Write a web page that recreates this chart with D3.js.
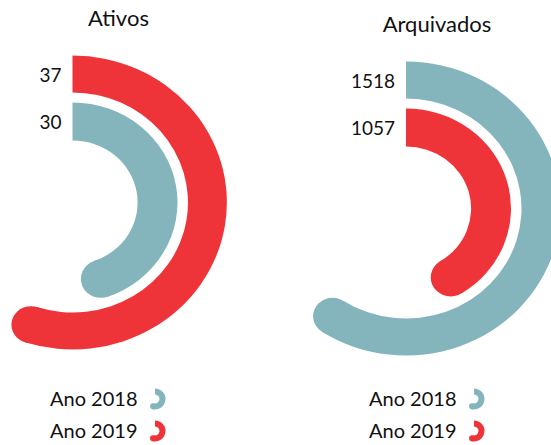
<!DOCTYPE html>
<html>
<head>
<meta charset="utf-8">
<script src="https://cdn.jsdelivr.net/npm/d3@7"></script>
<style>
  body { margin: 0; background: #fff; }
  text { font-family: Lato, "Open Sans", sans-serif; fill: #111; }
</style>
</head>
<body>
<div class="canvas"></div>
<script>
// data
const panels = ['Ativos', 'Arquivados'];
const years = ['Ano 2018', 'Ano 2019'];
const ativos = [30, 37];        // 2018, 2019
const arquivados = [1518, 1057]; // 2018, 2019
const colours = ['#85b5bc', '#ef3439'];

const width = 551, height = 445;

const svg = d3.select('.canvas').append('svg')
    .attr('width', width)
    .attr('height', height);

// layout for the two rings
const layout = [
  {cx: 72.5, cy: 202.5, sweep: 198, titleX: 118.5, titleY: 26, legendX: 50},
  {cx: 406, cy: 208.5, sweep: 213, titleX: 437, titleY: 32, legendX: 369}
];
const rings = [[62, 100], [110, 147]]; // inner ring, outer ring
const stretch = 1.05;

const arc = d3.arc().startAngle(0);

[ativos, arquivados].forEach((values, p) => {
  const L = layout[p];
  const maxV = d3.max(values);

  // angle scale, one per chart
  const angle = d3.scaleLinear()
      .domain([0, maxV])
      .range([0, L.sweep * Math.PI / 180]);

  // bigger value goes on the outer ring
  const rows = values.map((v, i) => ({v, i}))
      .sort((a, b) => a.v - b.v)
      .map((d, k) => ({...d, r0: rings[k][0], r1: rings[k][1]}));

  svg.append('text')
      .attr('x', L.titleX)
      .attr('y', L.titleY)
      .attr('text-anchor', 'middle')
      .attr('font-size', 22)
      .text(panels[p]);

  const g = svg.append('g')
      .attr('transform', `translate(${L.cx}, ${L.cy}) scale(${stretch}, 1)`);

  rows.forEach(d => {
    const a = angle(d.v);
    const rm = (d.r0 + d.r1) / 2;
    g.append('path')
        .attr('d', arc.innerRadius(d.r0).outerRadius(d.r1).endAngle(a)())
        .attr('fill', colours[d.i]);
    // round cap at the end
    const [px, py] = d3.pointRadial(a, rm);
    g.append('circle')
        .attr('cx', px)
        .attr('cy', py)
        .attr('r', (d.r1 - d.r0) / 2)
        .attr('fill', colours[d.i]);

    svg.append('text')
        .attr('x', L.cx - 11)
        .attr('y', L.cy - rm)
        .attr('text-anchor', 'end')
        .attr('dominant-baseline', 'central')
        .attr('font-size', 19)
        .text(d.v);
  });

  // legend
  years.forEach((y, i) => {
    const ly = 406 + i * 32;
    svg.append('text')
        .attr('x', L.legendX)
        .attr('y', ly)
        .attr('font-size', 20)
        .text(y);
    const ig = svg.append('g')
        .attr('transform', `translate(${L.legendX + 105}, ${ly - 7})`);
    const a = 195 * Math.PI / 180;
    ig.append('path')
        .attr('d', arc.innerRadius(4.5).outerRadius(10.5).endAngle(a)())
        .attr('fill', colours[i]);
    const [px, py] = d3.pointRadial(a, 7.5);
    ig.append('circle')
        .attr('cx', px).attr('cy', py).attr('r', 3)
        .attr('fill', colours[i]);
  });
});
</script>
</body>
</html>
